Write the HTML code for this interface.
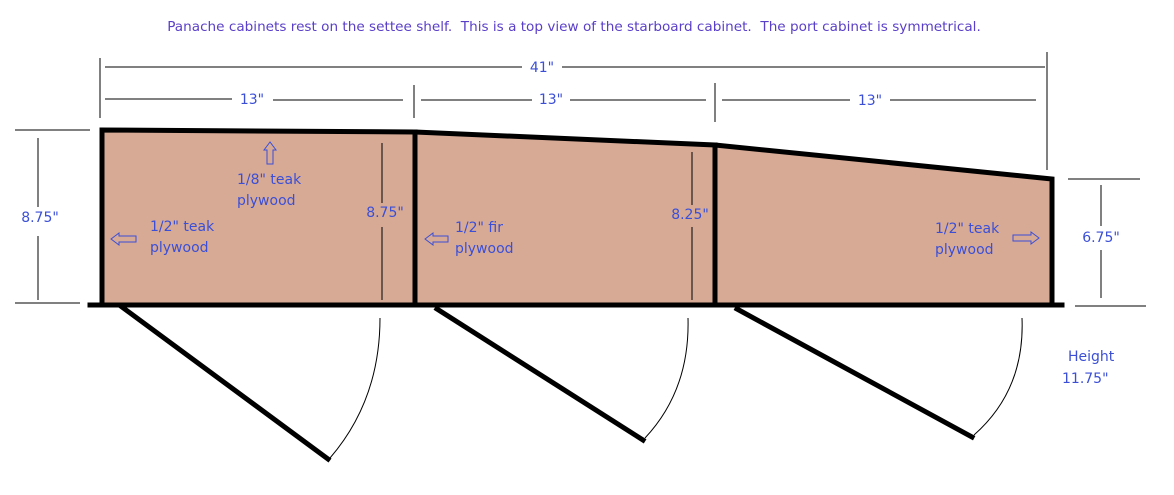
<!DOCTYPE html>
<html><head><meta charset="utf-8"><style>
html,body{margin:0;padding:0;background:#fff;}
svg{display:block;}
text{font-family:"DejaVu Sans","Liberation Sans",sans-serif;font-size:14px;fill:#3b4fd6;}
</style></head><body>
<svg width="1174" height="495" viewBox="0 0 1174 495" xmlns="http://www.w3.org/2000/svg">
<text x="574" y="31" text-anchor="middle" xml:space="preserve" style="font-size:13.6px;fill:#5a3fc8;white-space:pre">Panache cabinets rest on the settee shelf.  This is a top view of the starboard cabinet.  The port cabinet is symmetrical.</text>
<!-- fills -->
<polygon points="102,130 415,132 415,305 102,305" fill="#d7aa96"/>
<polygon points="415,132 715,145 715,305 415,305" fill="#d7aa96"/>
<polygon points="715,145 1052,179 1052,305 715,305" fill="#d7aa96"/>
<!-- thick lines -->
<g stroke="#000" stroke-width="5" fill="none" stroke-linecap="square">
<polyline points="102,305 102,130 415,132 715,145 1052,179 1052,305"/>
<line x1="415" y1="132" x2="415" y2="305"/>
<line x1="715" y1="145" x2="715" y2="305"/>
<line x1="90" y1="305" x2="1062" y2="305"/>
<line x1="122" y1="307" x2="328" y2="459"/>
<line x1="437" y1="309" x2="643" y2="440"/>
<line x1="737" y1="309" x2="972" y2="437"/>
</g>
<!-- arcs -->
<g stroke="#000" stroke-width="1" fill="none">
<path d="M330,458 Q380,400 380,318"/>
<path d="M645,438 Q690,390 688,318"/>
<path d="M974,435 Q1025,390 1022,318"/>
</g>
<!-- dimension lines -->
<g stroke="#000" stroke-width="1">
<line x1="100" y1="58" x2="100" y2="118"/>
<line x1="1047" y1="52" x2="1047" y2="170"/>
<line x1="105" y1="67" x2="522" y2="67"/>
<line x1="562" y1="67" x2="1045" y2="67"/>
<line x1="105" y1="99" x2="232" y2="99"/>
<line x1="273" y1="100" x2="403" y2="100"/>
<line x1="414" y1="85" x2="414" y2="118"/>
<line x1="421" y1="100" x2="532" y2="100"/>
<line x1="570" y1="100" x2="706" y2="100"/>
<line x1="715" y1="83" x2="715" y2="122"/>
<line x1="722" y1="100" x2="850" y2="100"/>
<line x1="890" y1="100" x2="1036" y2="100"/>
<line x1="15" y1="130" x2="90" y2="130"/>
<line x1="15" y1="303" x2="80" y2="303"/>
<line x1="38" y1="138" x2="38" y2="207"/>
<line x1="38" y1="236" x2="38" y2="300"/>
<line x1="382" y1="143" x2="382" y2="203"/>
<line x1="382" y1="227" x2="382" y2="300"/>
<line x1="692" y1="152" x2="692" y2="205"/>
<line x1="692" y1="227" x2="692" y2="300"/>
<line x1="1068" y1="179" x2="1140" y2="179"/>
<line x1="1075" y1="306" x2="1146" y2="306"/>
<line x1="1101" y1="185" x2="1101" y2="226"/>
<line x1="1101" y1="250" x2="1101" y2="298"/>
</g>
<!-- labels -->
<text x="542" y="72" text-anchor="middle">41"</text>
<text x="252" y="104" text-anchor="middle">13"</text>
<text x="551" y="104" text-anchor="middle">13"</text>
<text x="870" y="105" text-anchor="middle">13"</text>
<text x="40" y="222" text-anchor="middle">8.75"</text>
<text x="385" y="217" text-anchor="middle">8.75"</text>
<text x="690" y="219" text-anchor="middle">8.25"</text>
<text x="1101" y="242" text-anchor="middle">6.75"</text>
<text x="237" y="184">1/8" teak</text>
<text x="237" y="205">plywood</text>
<text x="150" y="231">1/2" teak</text>
<text x="150" y="252">plywood</text>
<text x="455" y="232">1/2" fir</text>
<text x="455" y="253">plywood</text>
<text x="935" y="233">1/2" teak</text>
<text x="935" y="254">plywood</text>
<text x="1068" y="361">Height</text>
<text x="1062" y="383">11.75"</text>
<!-- hollow arrows -->
<g stroke="#3b4fd6" stroke-width="1" fill="none">
<polygon points="270,142 264,150 267,150 267,164 273,164 273,150 276,150"/>
<polygon points="111,239 119,233 119,236 136,236 136,242 119,242 119,245"/>
<polygon points="425,239 433,233 433,236 448,236 448,242 433,242 433,245"/>
<polygon points="1039,238 1031,232 1031,235 1013,235 1013,241 1031,241 1031,244"/>
</g>
</svg>
</body></html>
